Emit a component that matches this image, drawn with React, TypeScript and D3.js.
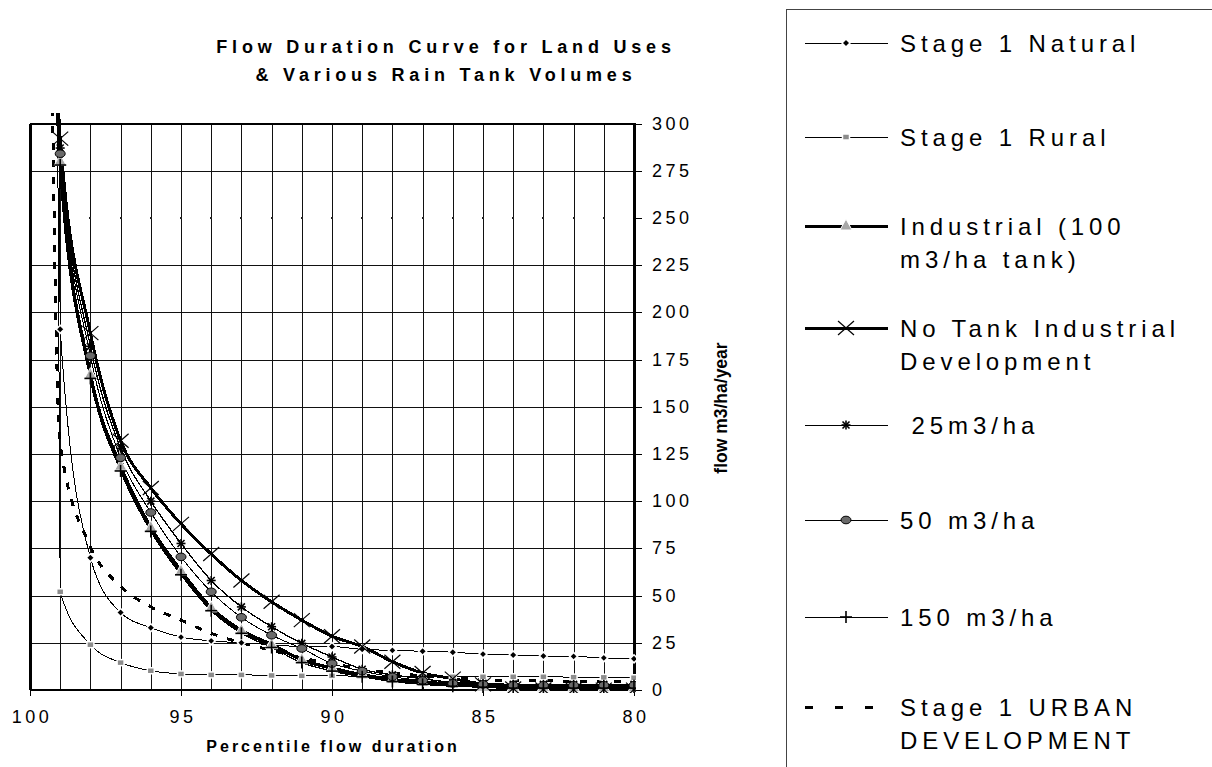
import * as d3 from 'd3'

// percentile flow duration (x) and flow m3/ha/year (y)
const percentiles = [100, 99, 98, 97, 96, 95, 94, 93, 92, 91, 90, 89, 88, 87, 86, 85, 84, 83, 82, 81, 80]

const natural = [2500, 191, 70, 41, 33, 28, 26, 25, 24, 23, 23, 21.5, 21, 20.5, 20, 19, 18.5, 18, 17.8, 17, 16.5]
const rural = [3000, 52, 24, 14.5, 10.2, 8.5, 8, 8, 7.7, 7.5, 7.5, 7.3, 7.2, 7, 7, 7, 7, 7, 6.8, 6.7, 6.5]
const industrial100 = [1200, 280, 167, 118.5, 86, 63, 43.5, 31.5, 24, 16, 11.5, 8, 5.5, 4, 3, 2, 1.5, 1.5, 1.2, 1.2, 1.2]
const noTank = [1500, 292, 189, 132, 107, 88, 72, 58, 46.7, 37, 28.5, 23, 15, 9, 6, 3, 0.8, 0.3, 0.2, 0.2, 0.2]
const tank25 = [1300, 287, 182, 128, 100, 77.6, 58, 44, 33.5, 24.7, 17.5, 11, 8, 6, 4, 3.5, 3, 3, 3, 3, 3]
const tank50 = [1250, 284, 177, 123, 94, 70.5, 52, 38.5, 29, 22, 14, 10, 7, 5, 3.5, 3, 2.5, 2.5, 2.5, 2.5, 2.5]
const tank150 = [1150, 278, 165, 116, 84, 61, 42, 30, 22.5, 14.5, 10, 7, 4.5, 3, 2, 1.5, 1, 1, 1, 1, 1]
const urban = [2000, 130, 76, 55, 44, 37, 30, 25, 21, 17, 14, 11, 9, 7.5, 6.5, 5.5, 5, 5, 4.5, 4.5, 4.5]

const yTicks = [0, 25, 50, 75, 100, 125, 150, 175, 200, 225, 250, 275, 300]
const xTicks = [100, 95, 90, 85, 80]

const font = 'Arial, "Liberation Sans", sans-serif'

const series = [
    { name: ['Stage 1 Natural'], values: natural, width: 1, marker: 'diamond', ly: 43 },
    { name: ['Stage 1 Rural'], values: rural, width: 1, marker: 'square', ly: 137 },
    { name: ['Industrial (100', 'm3/ha tank)'], values: industrial100, width: 3.5, marker: 'triangle', ly: 226 },
    { name: ['No Tank Industrial', 'Development'], values: noTank, width: 3, marker: 'x', ly: 328 },
    { name: [' 25m3/ha'], values: tank25, width: 1.3, marker: 'asterisk', ly: 425 },
    { name: ['50 m3/ha'], values: tank50, width: 1, marker: 'ellipse', ly: 520 },
    { name: ['150 m3/ha'], values: tank150, width: 1.3, marker: 'plus', ly: 617 },
    { name: ['Stage 1 URBAN', 'DEVELOPMENT'], values: urban, width: 3, marker: 'none', dash: '7 10', ly: 707 }
]

const Marker = ({ type, x, y }) => {
    switch (type) {
        case 'diamond':
            return <polygon points={`${x},${y - 4} ${x + 4},${y} ${x},${y + 4} ${x - 4},${y}`} fill="#000" stroke="#fff" strokeWidth="1.5" />
        case 'square':
            return <rect x={x - 3.5} y={y - 3} width="7" height="6" fill="#8c8c8c" stroke="#fff" strokeWidth="1.5" />
        case 'triangle':
            return <polygon points={`${x},${y - 7} ${x + 6},${y + 4} ${x - 6},${y + 4}`} fill="#a8a8a8" stroke="#fff" strokeWidth="1" />
        case 'x':
            return (
                <g stroke="#000" strokeWidth="1.2">
                    <line x1={x - 8} y1={y - 7} x2={x + 8} y2={y + 7} />
                    <line x1={x - 8} y1={y + 7} x2={x + 8} y2={y - 7} />
                </g>
            )
        case 'asterisk':
            return (
                <g stroke="#000" strokeWidth="1.6">
                    <line x1={x - 4.5} y1={y} x2={x + 4.5} y2={y} />
                    <line x1={x} y1={y - 4.5} x2={x} y2={y + 4.5} />
                    <line x1={x - 3.5} y1={y - 3.5} x2={x + 3.5} y2={y + 3.5} />
                    <line x1={x - 3.5} y1={y + 3.5} x2={x + 3.5} y2={y - 3.5} />
                </g>
            )
        case 'ellipse':
            return <ellipse cx={x} cy={y} rx="5" ry="3.8" fill="#6a6a6a" stroke="#000" strokeWidth="1" />
        case 'plus':
            return (
                <g stroke="#000" strokeWidth="1.6">
                    <line x1={x - 6} y1={y} x2={x + 6} y2={y} />
                    <line x1={x} y1={y - 6} x2={x} y2={y + 6} />
                </g>
            )
        default:
            return null
    }
}

export default function App() {
    const xScale = d3.scaleLinear().domain([100, 80]).range([30, 634])
    const yScale = d3.scaleLinear().domain([0, 300]).range([690, 123.5])

    const line = d3
        .line()
        .x((d) => xScale(d[0]))
        .y((d) => yScale(d[1]))
        .curve(d3.curveMonotoneX)

    const gridX = d3.range(80, 101)
    const gridY = yTicks.filter((t) => t !== 0 && t !== 250 && t !== 300)
    const px = (v) => Math.round(v) + 0.5

    return (
        <svg width={1212} height={767} style={{ position: 'absolute', left: 0, top: 0, background: '#fff' }}>
            <defs>
                <clipPath id="plotClip">
                    <rect x={30} y={113} width={606} height={580} />
                </clipPath>
            </defs>

            {/* title */}
            <g fontFamily={font} fontWeight="bold" fontSize="18" letterSpacing="4.8" textAnchor="middle">
                <text x={446} y={53}>Flow Duration Curve for Land Uses</text>
                <text x={446} y={81}>&amp; Various Rain Tank Volumes</text>
            </g>

            {/* grid */}
            <g stroke="#111" strokeWidth="1" shapeRendering="crispEdges">
                {gridX.map((p) => (
                    <line key={p} x1={px(xScale(p))} x2={px(xScale(p))} y1={yScale(300)} y2={yScale(0)} />
                ))}
                {gridY.map((v) => (
                    <line key={v} x1={xScale(100)} x2={xScale(80)} y1={px(yScale(v))} y2={px(yScale(v))} />
                ))}
            </g>
            <g fill="#222" shapeRendering="crispEdges">
                {gridX.map((p) => (
                    <rect key={p} x={Math.round(xScale(p)) - 1} y={Math.round(yScale(250)) - 1} width="2" height="2" />
                ))}
            </g>

            {/* frame and axes */}
            <g stroke="#000" shapeRendering="crispEdges">
                <line x1={xScale(100)} x2={xScale(80)} y1={yScale(300)} y2={yScale(300)} strokeWidth="2" />
                <line x1={xScale(100)} x2={xScale(100)} y1={yScale(300)} y2={yScale(0)} strokeWidth="3" />
                <line x1={xScale(100)} x2={xScale(80)} y1={yScale(0)} y2={yScale(0)} strokeWidth="2" />
                <line x1={xScale(80)} x2={xScale(80)} y1={yScale(300) - 1} y2={yScale(0) + 1} strokeWidth="3" />
                {yTicks.map((v) => (
                    <line key={v} x1={xScale(80)} x2={xScale(80) + 8} y1={px(yScale(v))} y2={px(yScale(v))} strokeWidth="1" />
                ))}
                {xTicks.map((p) => (
                    <line key={p} x1={px(xScale(p))} x2={px(xScale(p))} y1={yScale(0)} y2={yScale(0) + 6} strokeWidth="1" />
                ))}
            </g>

            {/* tick labels */}
            <g fontFamily={font} fontSize="18" letterSpacing="3.5" dominantBaseline="central">
                {yTicks.map((v) => (
                    <text key={v} x={xScale(80) + 18} y={yScale(v)}>
                        {v}
                    </text>
                ))}
                {xTicks.map((p) => (
                    <text key={p} x={xScale(p) + 2} y={717} textAnchor="middle">
                        {p}
                    </text>
                ))}
            </g>
            <text x={333} y={746} fontFamily={font} fontWeight="bold" fontSize="16" letterSpacing="3" textAnchor="middle" dominantBaseline="central">
                Percentile flow duration
            </text>
            <text
                transform="translate(721,408) rotate(-90)"
                fontFamily={font}
                fontWeight="bold"
                fontSize="17.5"
                textAnchor="middle"
                dominantBaseline="central"
            >
                flow m3/ha/year
            </text>

            {/* series */}
            <g clipPath="url(#plotClip)">
                {series.map((s, i) => (
                    <path
                        key={i}
                        d={line(percentiles.map((p, j) => [p, s.values[j]]))}
                        fill="none"
                        stroke="#000"
                        strokeWidth={s.width}
                        strokeDasharray={s.dash}
                        shapeRendering="crispEdges"
                    />
                ))}
                {series.map((s, i) => (
                    <g key={i}>
                        {percentiles.map((p, j) =>
                            p < 100 ? <Marker key={p} type={s.marker} x={xScale(p)} y={yScale(s.values[j])} /> : null
                        )}
                    </g>
                ))}
            </g>

            {/* legend */}
            <rect x={786.5} y={9.5} width={440} height={780} fill="none" stroke="#444" strokeWidth="1" shapeRendering="crispEdges" />
            <g fontFamily={font} fontSize="24" letterSpacing="4.9">
                {series.map((s, i) => (
                    <g key={i}>
                        <line
                            x1={805}
                            x2={888}
                            y1={px(s.ly)}
                            y2={px(s.ly)}
                            stroke="#000"
                            strokeWidth={s.width}
                            strokeDasharray={s.dash ? '8 22' : undefined}
                            shapeRendering="crispEdges"
                        />
                        <Marker type={s.marker} x={846} y={s.ly} />
                        {s.name.map((t, k) => (
                            <text key={k} x={900} y={s.ly + k * 33} dominantBaseline="central" style={{ whiteSpace: 'pre' }}>
                                {t}
                            </text>
                        ))}
                    </g>
                ))}
            </g>
        </svg>
    )
}
